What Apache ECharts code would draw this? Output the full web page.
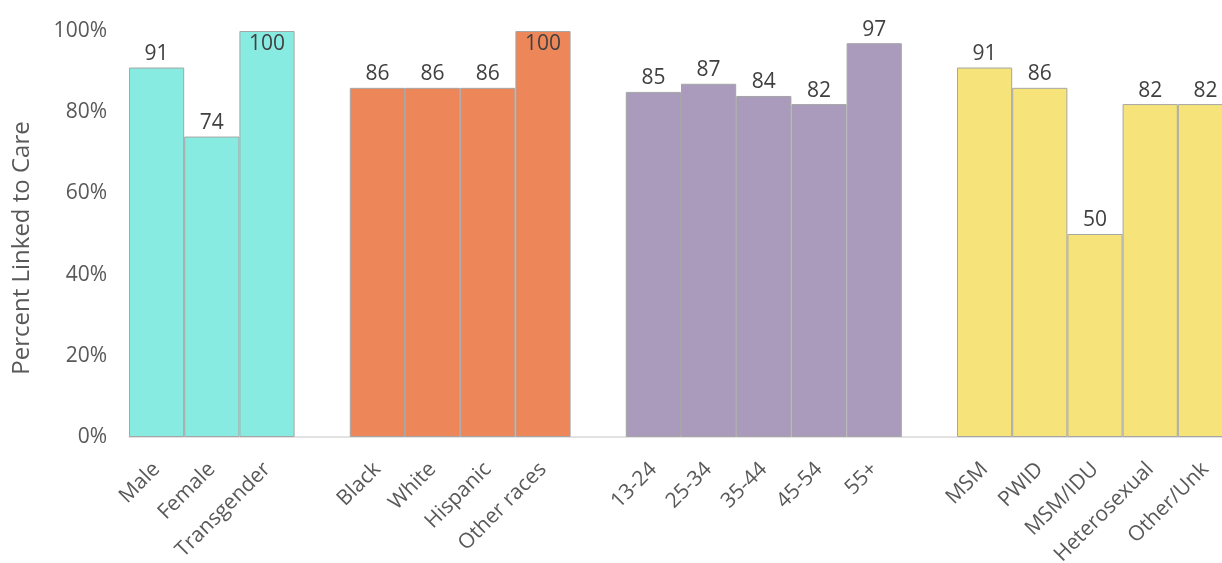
<!DOCTYPE html>
<html><head><meta charset="utf-8">
<script src="https://cdn.jsdelivr.net/npm/echarts@6/dist/echarts.min.js"></script>
<style>html,body{margin:0;padding:0;background:#fff;overflow:hidden}#c{width:1233px;height:563px}</style>
</head><body><div id="c"></div>
<script>
var categories = ['Male','Female','Transgender','','Black','White','Hispanic','Other races','','13-24','25-34','35-44','45-54','55+','','MSM','PWID','MSM/IDU','Heterosexual','Other/Unk'];
var values = [91,74,100,null,86,86,86,100,null,85,87,84,82,97,null,91,86,50,82,82];
var groupOfBar = [0,0,0,-1,1,1,1,1,-1,2,2,2,2,2,-1,3,3,3,3,3];
var groupColors = ['#88EBE1','#ED875A','#AA9BBD','#F6E47B'];
var yTicks = [0,20,40,60,80,100];

var data = values.map(function(v,i){
  if (v === null) return '-';
  return {
    value: v,
    itemStyle: {color: groupColors[groupOfBar[i]]},
    label: {position: v >= 100 ? 'insideTop' : 'top'}
  };
});
var font = '"Open Sans", sans-serif';
var chart = echarts.init(document.getElementById('c'));
chart.setOption({
  animation: false,
  grid: {left: 129, right: 0, top: 31, bottom: 126, containLabel: false, outerBoundsMode: 'none'},
  xAxis: {
    type: 'category', data: categories,
    axisLine: {lineStyle: {color: '#D9D9D9', width: 1.5}},
    axisTick: {show: false},
    axisLabel: {rotate: 45, interval: 0, color: '#595959', fontSize: 21, fontFamily: font, margin: 29}
  },
  yAxis: {
    type: 'value', min: 0, max: 100, interval: 20,
    axisLine: {show: false}, axisTick: {show: false}, splitLine: {show: false},
    axisLabel: {formatter: '{value}%', color: '#595959', fontSize: 21, fontFamily: font, margin: 22}
  },
  graphic: [{
    type: 'text', x: 22, y: 248, rotation: Math.PI/2,
    style: {text: 'Percent Linked to Care', fill: '#595959', fontSize: 24, fontFamily: font, align: 'center', verticalAlign: 'middle'}
  }],
  series: [{
    type: 'bar', data: data, barCategoryGap: 0, barGap: 0,
    itemStyle: {borderColor: '#A6A6A6', borderWidth: 1},
    label: {show: true, color: '#404040', fontSize: 21, fontFamily: font, distance: 3}
  }]
});
</script></body></html>
